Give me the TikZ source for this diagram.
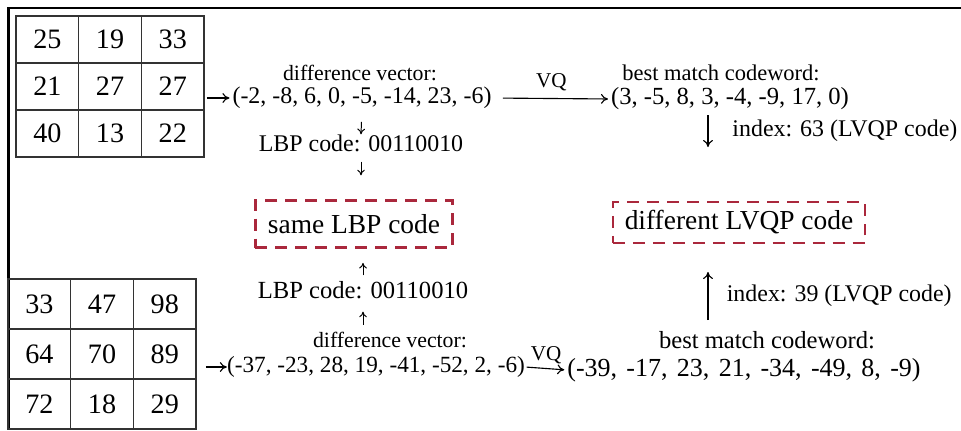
\documentclass[tikz,border=0pt]{standalone}
\usepackage{fontspec}
\setmainfont{Liberation Serif}
\usetikzlibrary{arrows.meta}
\definecolor{boxred}{RGB}{170,40,60}
\tikzset{
  cellt/.style={draw=black!80,line width=1.1pt,minimum width=1.5675cm,minimum height=1.175cm,inner sep=0pt,outer sep=0pt,font=\fontsize{20}{22}\selectfont},
  cellb/.style={cellt,minimum height=1.25cm},
  txt/.style={inner sep=0pt,font=\fontsize{17}{20}\selectfont},
  codebox/.style={draw=boxred,line width=1.8pt,dash pattern=on 8.5pt off 5.7pt,inner sep=0pt,font=\fontsize{19.5}{22}\selectfont},
  arr/.style={-{To[length=5pt,width=7pt]},line width=0.8pt},
  sarr/.style={-{To[length=4pt,width=5.5pt]},line width=0.7pt},
}
\begin{document}
\begin{tikzpicture}[x=0.025cm,y=-0.025cm]
\useasboundingbox (0,0) rectangle (961,430);
\draw[line width=1.8pt] (961,8) -- (8.5,8) -- (8.5,430);
\foreach \v [count=\i from 0] in {25,19,33,21,27,27,40,13,22}
  \node[cellt] (a\i) at ({47.35+62.7*mod(\i,3)},{39.5+47*int(\i/3)}) {\v};
\foreach \v [count=\i from 0] in {33,47,98,64,70,89,72,18,29}
  \node[cellb] (b\i) at ({39.35+62.7*mod(\i,3)},{304+50*int(\i/3)}) {\v};

\node[txt,font=\fontsize{15.5}{18}\selectfont] (dv1) at (360,73) {difference vector:};
\node[txt] (vec1) at (362,98) {(-2, -8, 6, 0, -5, -14, 23, -6)};
\node[txt,font=\fontsize{16}{18}\selectfont] (bm1) at (721,73) {best match codeword:};
\node[txt,font=\fontsize{17.5}{20}\selectfont] (cw1) at (730,99) {(3, -5, 8, 3, -4, -9, 17, 0)};
\node[txt] (lbp1) at (361,143) {LBP code: 00110010};
\node[codebox,minimum width=4.925cm,minimum height=1.175cm] (box1) at (354,224) {same LBP code};
\node[codebox,minimum width=6.3cm,minimum height=1.025cm] (box2) at (739,222.5) {different LVQP code};
\node[txt,font=\fontsize{17.5}{20}\selectfont] (lbp2) at (363,290) {LBP code: 00110010};
\node[txt,font=\fontsize{15.5}{18}\selectfont] (dv2) at (390,340) {difference vector:};
\node[txt,font=\fontsize{16.5}{20}\selectfont] (vec2) at (376,367) {(-37, -23, 28, 19, -41, -52, 2, -6)};
\node[txt,font=\fontsize{17.5}{20}\selectfont] (bm2) at (767,340) {best match codeword:};
\node[txt,font={\fontsize{18.5}{20}\selectfont\spaceskip=6.6pt}] (cw2) at (744,370) {(-39, -17, 23, 21, -34, -49, 8, -9)};
\coordinate (i1a) at (708,115);
\coordinate (i1b) at (708,147);
\coordinate (i2a) at (708,320);
\coordinate (i2b) at (708,272);

\draw[arr,shorten <=2pt,shorten >=2pt] (vec1.west -| a5.east) -- (vec1.west);
\draw[arr,shorten <=8pt,shorten >=2pt] (vec1.east) -- node[above=5pt,txt,font=\fontsize{15}{17}\selectfont] {VQ} (cw1.west);
\draw[arr] (i1a) -- node[right=17pt,txt] {index: 63 (LVQP code)} (i1b);
\draw[sarr,shorten <=9pt] (vec1.south) -- (lbp1.north);
\draw[sarr,shorten <=7pt,shorten >=17pt] (lbp1.south) -- (box1.north -| lbp1.south);
\draw[sarr,shorten <=4pt,shorten >=10pt] (lbp2.north) -- (box1.south -| lbp2.north);
\draw[sarr,shorten <=5pt,shorten >=9pt] (dv2.north -| lbp2.south) -- (lbp2.south);
\draw[arr,shorten <=7pt] (vec2.west -| b5.east) -- (vec2.west);
\draw[arr,shorten <=1pt,shorten >=2pt] (vec2.east) -- node[above=3pt,txt,font=\fontsize{15}{17}\selectfont] {VQ} (cw2.west);
\draw[arr] (i2a) -- node[right=13pt,txt] {index: 39 (LVQP code)} (i2b);
\end{tikzpicture}
\end{document}
